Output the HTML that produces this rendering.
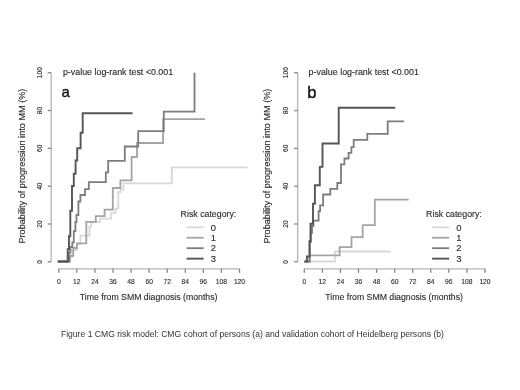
<!DOCTYPE html>
<html><head><meta charset="utf-8"><style>
html,body{margin:0;padding:0;background:#fff;width:520px;height:390px;overflow:hidden}
svg{display:block}
text{font-family:"Liberation Sans",Arial,sans-serif;fill:#2a2a2a;stroke:#2a2a2a;stroke-width:0.12px}
.lab{font-size:9.4px}
.pv{font-size:8.9px}
.cap{font-size:9.1px;stroke:none;fill:#333}
.big{font-size:16px;fill:#111;stroke:#111;stroke-width:0.45px}
.xt{font-size:7.7px;text-anchor:middle}
.yt{font-size:7.7px;text-anchor:middle}
.ax{stroke:#b4b4b4;stroke-width:1.3;fill:none}
.tk{stroke:#858585;stroke-width:1.3;fill:none}
.c0{stroke:#d8d8d8;stroke-width:1.8;fill:none}
.c1{stroke:#a4a4a4;stroke-width:1.8;fill:none}
.c2{stroke:#7c7c7c;stroke-width:1.8;fill:none}
.c3{stroke:#555;stroke-width:1.9;fill:none}
</style></head><body>
<svg width="520" height="390" viewBox="0 0 520 390">
<rect width="520" height="390" fill="#fff"/>
<g>
<line x1="51.2" y1="72.7" x2="51.2" y2="261.8" class="ax"/>
<line x1="47.7" y1="261.80" x2="51.2" y2="261.80" class="tk"/>
<text x="38.90" y="261.80" class="yt" transform="rotate(-90 38.90 261.80)" dy="2.75" textLength="3.70" lengthAdjust="spacingAndGlyphs">0</text>
<line x1="47.7" y1="223.98" x2="51.2" y2="223.98" class="tk"/>
<text x="38.90" y="223.98" class="yt" transform="rotate(-90 38.90 223.98)" dy="2.75" textLength="7.40" lengthAdjust="spacingAndGlyphs">20</text>
<line x1="47.7" y1="186.16" x2="51.2" y2="186.16" class="tk"/>
<text x="38.90" y="186.16" class="yt" transform="rotate(-90 38.90 186.16)" dy="2.75" textLength="7.40" lengthAdjust="spacingAndGlyphs">40</text>
<line x1="47.7" y1="148.34" x2="51.2" y2="148.34" class="tk"/>
<text x="38.90" y="148.34" class="yt" transform="rotate(-90 38.90 148.34)" dy="2.75" textLength="7.40" lengthAdjust="spacingAndGlyphs">60</text>
<line x1="47.7" y1="110.52" x2="51.2" y2="110.52" class="tk"/>
<text x="38.90" y="110.52" class="yt" transform="rotate(-90 38.90 110.52)" dy="2.75" textLength="7.40" lengthAdjust="spacingAndGlyphs">80</text>
<line x1="47.7" y1="72.70" x2="51.2" y2="72.70" class="tk"/>
<text x="38.90" y="72.70" class="yt" transform="rotate(-90 38.90 72.70)" dy="2.75" textLength="11.10" lengthAdjust="spacingAndGlyphs">100</text>
<line x1="58.8" y1="268.8" x2="239.5" y2="268.8" class="ax"/>
<line x1="58.80" y1="268.8" x2="58.80" y2="272.8" class="tk"/>
<text x="58.80" y="284.4" class="xt" textLength="3.75" lengthAdjust="spacingAndGlyphs">0</text>
<line x1="76.87" y1="268.8" x2="76.87" y2="272.8" class="tk"/>
<text x="76.87" y="284.4" class="xt" textLength="7.50" lengthAdjust="spacingAndGlyphs">12</text>
<line x1="94.94" y1="268.8" x2="94.94" y2="272.8" class="tk"/>
<text x="94.94" y="284.4" class="xt" textLength="7.50" lengthAdjust="spacingAndGlyphs">24</text>
<line x1="113.01" y1="268.8" x2="113.01" y2="272.8" class="tk"/>
<text x="113.01" y="284.4" class="xt" textLength="7.50" lengthAdjust="spacingAndGlyphs">36</text>
<line x1="131.08" y1="268.8" x2="131.08" y2="272.8" class="tk"/>
<text x="131.08" y="284.4" class="xt" textLength="7.50" lengthAdjust="spacingAndGlyphs">48</text>
<line x1="149.15" y1="268.8" x2="149.15" y2="272.8" class="tk"/>
<text x="149.15" y="284.4" class="xt" textLength="7.50" lengthAdjust="spacingAndGlyphs">60</text>
<line x1="167.22" y1="268.8" x2="167.22" y2="272.8" class="tk"/>
<text x="167.22" y="284.4" class="xt" textLength="7.50" lengthAdjust="spacingAndGlyphs">72</text>
<line x1="185.29" y1="268.8" x2="185.29" y2="272.8" class="tk"/>
<text x="185.29" y="284.4" class="xt" textLength="7.50" lengthAdjust="spacingAndGlyphs">84</text>
<line x1="203.36" y1="268.8" x2="203.36" y2="272.8" class="tk"/>
<text x="203.36" y="284.4" class="xt" textLength="7.50" lengthAdjust="spacingAndGlyphs">96</text>
<line x1="221.43" y1="268.8" x2="221.43" y2="272.8" class="tk"/>
<text x="221.43" y="284.4" class="xt" textLength="11.25" lengthAdjust="spacingAndGlyphs">108</text>
<line x1="239.50" y1="268.8" x2="239.50" y2="272.8" class="tk"/>
<text x="239.50" y="284.4" class="xt" textLength="11.25" lengthAdjust="spacingAndGlyphs">120</text>
<text x="79.80" y="300.4" class="lab" textLength="137.6" lengthAdjust="spacingAndGlyphs">Time from SMM diagnosis (months)</text>
<text x="0" y="0" class="lab" style="font-size:9px" textLength="155" lengthAdjust="spacingAndGlyphs" transform="translate(24.90 243.6) rotate(-90)">Probability of progression into MM (%)</text>
<text x="62.90" y="75.2" class="pv" textLength="110.3" lengthAdjust="spacingAndGlyphs">p-value log-rank test &lt;0.001</text>
<text x="61.6" y="96.7" class="big" style="font-size:15px;stroke-width:0.35px">a</text>
<text x="180.60" y="217" class="lab" textLength="55.7" lengthAdjust="spacingAndGlyphs">Risk category:</text>
<line x1="186.60" y1="227.30" x2="203.60" y2="227.30" class="c0"/>
<text x="210.80" y="230.50" class="lab">0</text>
<line x1="186.60" y1="237.75" x2="203.60" y2="237.75" class="c1"/>
<text x="210.80" y="240.95" class="lab">1</text>
<line x1="186.60" y1="248.20" x2="203.60" y2="248.20" class="c2"/>
<text x="210.80" y="251.40" class="lab">2</text>
<line x1="186.60" y1="258.65" x2="203.60" y2="258.65" class="c3"/>
<text x="210.80" y="261.85" class="lab">3</text>
<path d="M57.8,261.5 H68 V257 H72 V250 H76.9 V244 H80.4 V235.7 H89.4 V226.7 H91.2 V222.2 H100.1 V218.6 H110.9 V213.2 H115.4 V208.7 H118.3 V192 H120.6 V189.5 H123.4 V183.4 H171.8 V167.3 H247.7" class="c0"/>
<path d="M57.8,261.5 H70 V255.8 H73.3 V248 H76.9 V243.3 H86.3 V221.8 H95.8 V216.2 H104.6 V209.7 H112.8 V188 H120.4 V180.4 H131.6 V157 H137 V143 H163.1 V119.2 H205" class="c1"/>
<path d="M57.8,261.5 H69 V252.7 H70.3 V247 H72.3 V242.4 H73.8 V231.2 H75.4 V222 H76.5 V215 H78.4 V201.5 H80.4 V195 H85 V189.2 H88.8 V182.2 H105.8 V172.4 H108.2 V160.9 H124.8 V146.5 H138.2 V131.2 H163.8 V111.7 H194.5 V72.7" class="c2"/>
<path d="M57.8,261.5 H67.7 V249.1 H69 V236.3 H70.3 V210.8 H72 V186 H73.8 V173.8 H75.6 V160.5 H77.2 V148.2 H80.6 V132.8 H82.7 V113.2 H132.5" class="c3"/>
<line x1="297.7" y1="72.7" x2="297.7" y2="261.8" class="ax"/>
<line x1="294.2" y1="261.80" x2="297.7" y2="261.80" class="tk"/>
<text x="285.40" y="261.80" class="yt" transform="rotate(-90 285.40 261.80)" dy="2.75" textLength="3.70" lengthAdjust="spacingAndGlyphs">0</text>
<line x1="294.2" y1="223.98" x2="297.7" y2="223.98" class="tk"/>
<text x="285.40" y="223.98" class="yt" transform="rotate(-90 285.40 223.98)" dy="2.75" textLength="7.40" lengthAdjust="spacingAndGlyphs">20</text>
<line x1="294.2" y1="186.16" x2="297.7" y2="186.16" class="tk"/>
<text x="285.40" y="186.16" class="yt" transform="rotate(-90 285.40 186.16)" dy="2.75" textLength="7.40" lengthAdjust="spacingAndGlyphs">40</text>
<line x1="294.2" y1="148.34" x2="297.7" y2="148.34" class="tk"/>
<text x="285.40" y="148.34" class="yt" transform="rotate(-90 285.40 148.34)" dy="2.75" textLength="7.40" lengthAdjust="spacingAndGlyphs">60</text>
<line x1="294.2" y1="110.52" x2="297.7" y2="110.52" class="tk"/>
<text x="285.40" y="110.52" class="yt" transform="rotate(-90 285.40 110.52)" dy="2.75" textLength="7.40" lengthAdjust="spacingAndGlyphs">80</text>
<line x1="294.2" y1="72.70" x2="297.7" y2="72.70" class="tk"/>
<text x="285.40" y="72.70" class="yt" transform="rotate(-90 285.40 72.70)" dy="2.75" textLength="11.10" lengthAdjust="spacingAndGlyphs">100</text>
<line x1="304.3" y1="268.8" x2="485.0" y2="268.8" class="ax"/>
<line x1="304.30" y1="268.8" x2="304.30" y2="272.8" class="tk"/>
<text x="304.30" y="284.4" class="xt" textLength="3.75" lengthAdjust="spacingAndGlyphs">0</text>
<line x1="322.37" y1="268.8" x2="322.37" y2="272.8" class="tk"/>
<text x="322.37" y="284.4" class="xt" textLength="7.50" lengthAdjust="spacingAndGlyphs">12</text>
<line x1="340.44" y1="268.8" x2="340.44" y2="272.8" class="tk"/>
<text x="340.44" y="284.4" class="xt" textLength="7.50" lengthAdjust="spacingAndGlyphs">24</text>
<line x1="358.51" y1="268.8" x2="358.51" y2="272.8" class="tk"/>
<text x="358.51" y="284.4" class="xt" textLength="7.50" lengthAdjust="spacingAndGlyphs">36</text>
<line x1="376.58" y1="268.8" x2="376.58" y2="272.8" class="tk"/>
<text x="376.58" y="284.4" class="xt" textLength="7.50" lengthAdjust="spacingAndGlyphs">48</text>
<line x1="394.65" y1="268.8" x2="394.65" y2="272.8" class="tk"/>
<text x="394.65" y="284.4" class="xt" textLength="7.50" lengthAdjust="spacingAndGlyphs">60</text>
<line x1="412.72" y1="268.8" x2="412.72" y2="272.8" class="tk"/>
<text x="412.72" y="284.4" class="xt" textLength="7.50" lengthAdjust="spacingAndGlyphs">72</text>
<line x1="430.79" y1="268.8" x2="430.79" y2="272.8" class="tk"/>
<text x="430.79" y="284.4" class="xt" textLength="7.50" lengthAdjust="spacingAndGlyphs">84</text>
<line x1="448.86" y1="268.8" x2="448.86" y2="272.8" class="tk"/>
<text x="448.86" y="284.4" class="xt" textLength="7.50" lengthAdjust="spacingAndGlyphs">96</text>
<line x1="466.93" y1="268.8" x2="466.93" y2="272.8" class="tk"/>
<text x="466.93" y="284.4" class="xt" textLength="11.25" lengthAdjust="spacingAndGlyphs">108</text>
<line x1="485.00" y1="268.8" x2="485.00" y2="272.8" class="tk"/>
<text x="485.00" y="284.4" class="xt" textLength="11.25" lengthAdjust="spacingAndGlyphs">120</text>
<text x="325.30" y="300.4" class="lab" textLength="137.6" lengthAdjust="spacingAndGlyphs">Time from SMM diagnosis (months)</text>
<text x="0" y="0" class="lab" style="font-size:9px" textLength="155" lengthAdjust="spacingAndGlyphs" transform="translate(270.40 243.6) rotate(-90)">Probability of progression into MM (%)</text>
<text x="308.60" y="75.2" class="pv" textLength="110.3" lengthAdjust="spacingAndGlyphs">p-value log-rank test &lt;0.001</text>
<text x="307.2" y="97.7" class="big" style="font-size:16.5px">b</text>
<text x="426.10" y="217" class="lab" textLength="55.7" lengthAdjust="spacingAndGlyphs">Risk category:</text>
<line x1="432.10" y1="227.30" x2="449.10" y2="227.30" class="c0"/>
<text x="456.30" y="230.50" class="lab">0</text>
<line x1="432.10" y1="237.75" x2="449.10" y2="237.75" class="c1"/>
<text x="456.30" y="240.95" class="lab">1</text>
<line x1="432.10" y1="248.20" x2="449.10" y2="248.20" class="c2"/>
<text x="456.30" y="251.40" class="lab">2</text>
<line x1="432.10" y1="258.65" x2="449.10" y2="258.65" class="c3"/>
<text x="456.30" y="261.85" class="lab">3</text>
<path d="M304.5,261.5 H334.8 V251.5 H390.6" class="c0"/>
<path d="M304.5,261.5 H309.6 V255.4 H339.6 V247.2 H351.5 V237.1 H362.7 V225.2 H374.8 V199.6 H408.8" class="c1"/>
<path d="M304.5,261.5 H309.6 V242 H310.8 V233 H312 V226 H313.4 V220.6 H318.6 V211.2 H320.1 V205.4 H323.1 V194.5 H330.3 V188.8 H337.3 V183 H341 V164.4 H344.4 V158.5 H348.6 V152.8 H351.4 V147.2 H353.7 V139.9 H367.3 V133.9 H387.7 V121.4 H404" class="c2"/>
<path d="M304.5,261.5 H306.9 V256.5 H309.6 V241 H310.5 V223.7 H313 V203.8 H314.9 V185.3 H319.8 V166.9 H322.5 V143.5 H338.7 V107.7 H395.3" class="c3"/>
<text x="60.9" y="336.9" class="cap" textLength="383" lengthAdjust="spacingAndGlyphs">Figure 1 CMG risk model: CMG cohort of persons (a) and validation cohort of Heidelberg persons (b)</text>
</g>
</svg>
</body></html>
